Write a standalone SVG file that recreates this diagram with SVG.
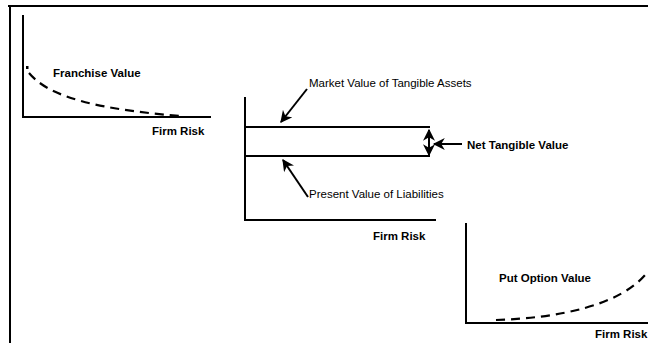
<svg xmlns="http://www.w3.org/2000/svg" width="648" height="343" viewBox="0 0 648 343">
<style>
.ax{stroke:#000;stroke-width:2;fill:none}
.cv{stroke:#000;stroke-width:2.2;fill:none;stroke-dasharray:9,6}
.lb{font-family:"Liberation Sans",Arial,sans-serif;font-size:11.5px;fill:#000}
.b{font-weight:bold}
</style>
<defs>
<marker id="ah" viewBox="0 0 10 10" refX="9" refY="5" markerWidth="6.5" markerHeight="6" orient="auto-start-reverse" markerUnits="strokeWidth">
<path d="M0,0 L10,5 L0,10 L3,5 Z" fill="#000"/>
</marker>
</defs>
<rect width="648" height="343" fill="#fff"/>
<g id="frame">
<line class="ax" x1="8" y1="6" x2="648" y2="6"/>
<line class="ax" x1="10" y1="5" x2="10" y2="343"/>
</g>
<g id="franchise">
<line class="ax" x1="23" y1="15" x2="23" y2="118"/>
<line class="ax" x1="22" y1="117" x2="211" y2="117"/>
<rect x="26" y="66" width="2.5" height="3" fill="#000"/>
<path class="cv" d="M29,73 C45,92 80,108 180,116"/>
<text class="lb b" x="53" y="77">Franchise Value</text>
<text class="lb b" x="152" y="135">Firm Risk</text>
</g>
<g id="tangible">
<line class="ax" x1="245" y1="97" x2="245" y2="221"/>
<line class="ax" x1="244" y1="220" x2="436" y2="220"/>
<line class="ax" x1="245" y1="127" x2="430" y2="127"/>
<line class="ax" x1="246" y1="156" x2="430" y2="156"/>
<text class="lb" x="309" y="87">Market Value of Tangible Assets</text>
<text class="lb" x="309" y="198">Present Value of Liabilities</text>
<text class="lb b" x="467" y="149">Net Tangible Value</text>
<text class="lb b" x="373" y="240">Firm Risk</text>
</g>
<g id="put">
<line class="ax" x1="466" y1="223" x2="466" y2="324"/>
<line class="ax" x1="465" y1="323" x2="648" y2="323"/>
<path class="cv" d="M496,320 C560,318 620,305 646,274"/>
<text class="lb b" x="499" y="282">Put Option Value</text>
<text class="lb b" x="595" y="338">Firm Risk</text>
</g>
<g id="connectors">
<line class="ax" x1="307" y1="89" x2="281" y2="122" marker-end="url(#ah)"/>
<line class="ax" x1="308" y1="197" x2="283" y2="160" marker-end="url(#ah)"/>
<line class="ax" x1="429" y1="130" x2="429" y2="155" marker-start="url(#ah)" marker-end="url(#ah)"/>
<line class="ax" x1="462" y1="144" x2="434" y2="144" marker-end="url(#ah)"/>
</g>
</svg>
